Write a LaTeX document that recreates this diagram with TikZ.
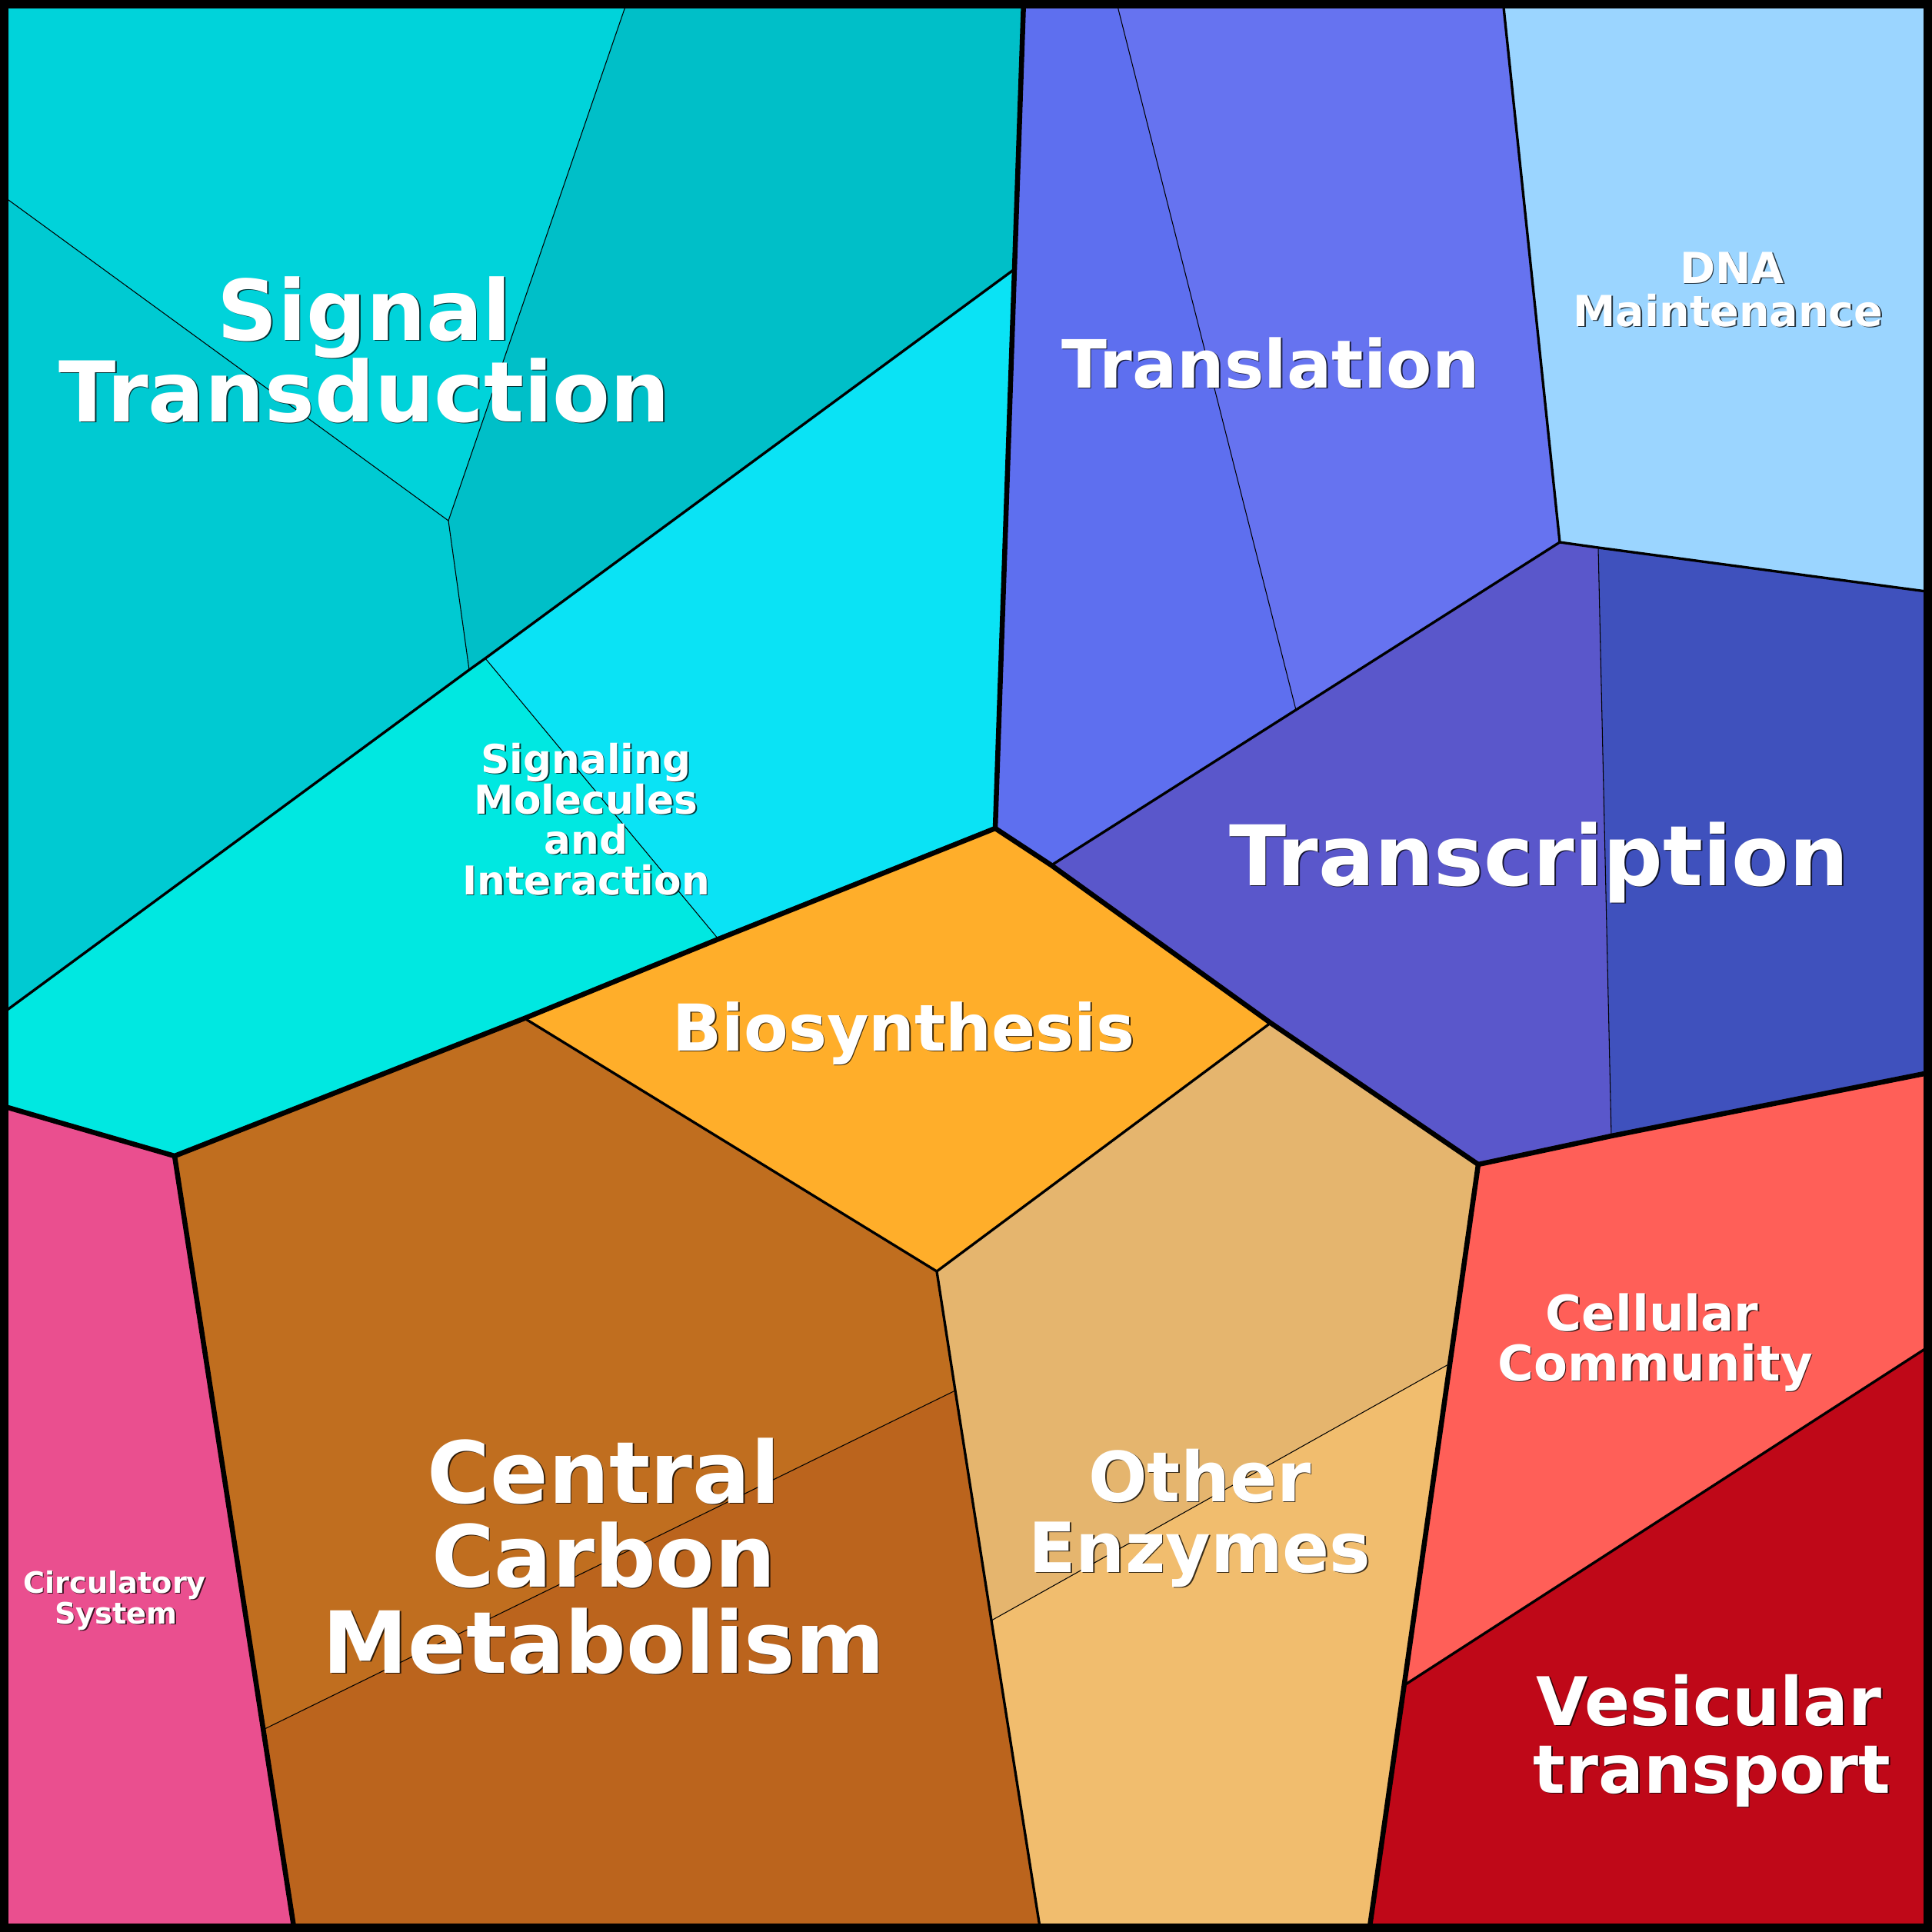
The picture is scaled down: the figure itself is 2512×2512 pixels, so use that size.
\documentclass[tikz,border=0pt]{standalone}
\usepackage{fontspec}
\setmainfont{DejaVu Sans}
\definecolor{cST1}{HTML}{00D3DA}
\definecolor{cST2}{HTML}{00CAD2}
\definecolor{cST3}{HTML}{00BFC8}
\definecolor{cSM1}{HTML}{0AE3F5}
\definecolor{cSM2}{HTML}{00E8E1}
\definecolor{cCIRC}{HTML}{EA4F8F}
\definecolor{cCCM1}{HTML}{C06E1F}
\definecolor{cCCM2}{HTML}{BB641D}
\definecolor{cBIO}{HTML}{FFAE2A}
\definecolor{cOE1}{HTML}{E5B56E}
\definecolor{cOE2}{HTML}{F1BD6E}
\definecolor{cCC}{HTML}{FF5F58}
\definecolor{cVT}{HTML}{BF0818}
\definecolor{cTR1}{HTML}{5A57CB}
\definecolor{cTR2}{HTML}{3F51BD}
\definecolor{cTL1}{HTML}{5E6FEF}
\definecolor{cTL2}{HTML}{6673F0}
\definecolor{cDNA}{HTML}{9BD5FF}
\tikzset{
  thickedge/.style={line width=1.85pt, line join=round},
  midedge/.style={line width=0.95pt, line join=round},
  thinedge/.style={line width=0.3pt},
  txt/.style={inner sep=0pt, anchor=base, text=white},
  txtshadow/.style={inner sep=0pt, anchor=base, text=black, opacity=0.75},
}
\newcommand\lbl[5]{%
  \node[txtshadow,font=\fontsize{#4pt}{#4pt}\selectfont\bfseries] at (#2+1.6,#3+1.6) {#5};
  \node[txt,font=\fontsize{#4pt}{#4pt}\selectfont\bfseries] (#1) at (#2,#3) {#5};}
\begin{document}
\begin{tikzpicture}[x=0.01cm,y=-0.01cm]
\useasboundingbox (0,0) rectangle (2512,2512);
% vertices
\coordinate (TA) at (816,0);
\coordinate (LA) at (0,252);
\coordinate (A) at (583,677);
\coordinate (B) at (610,871);
\coordinate (D) at (631,856);
\coordinate (T2) at (1331,0);
\coordinate (C1) at (1319,350);
\coordinate (LM) at (0,1320);
\coordinate (E) at (1294,1077);
\coordinate (F) at (934,1221);
\coordinate (G) at (682,1324);
\coordinate (H) at (227,1503);
\coordinate (LH) at (0,1437);
\coordinate (HB) at (383,2512);
\coordinate (K) at (342,2249);
\coordinate (I) at (1218,1653);
\coordinate (J) at (1242,1808);
\coordinate (L) at (1353,2512);
\coordinate (M) at (1652,1330);
\coordinate (N) at (1922,1514);
\coordinate (P) at (1885,1773);
\coordinate (Q) at (1289,2107);
\coordinate (R) at (1826,2191);
\coordinate (S) at (1780,2512);
\coordinate (RR) at (2512,1748);
\coordinate (T) at (2095,1477);
\coordinate (U) at (2512,1394);
\coordinate (V) at (1367,1125);
\coordinate (W) at (2028,705);
\coordinate (X) at (2078,712);
\coordinate (XR) at (2512,770);
\coordinate (WT) at (1954,0);
\coordinate (Y) at (1685,923);
\coordinate (YT) at (1451,0);
\coordinate (TL) at (0,0);
\coordinate (TR) at (2512,0);
\coordinate (BR) at (2512,2512);
\coordinate (BL) at (0,2512);
% fills
\fill[cST1] (TL) -- (TA) -- (A) -- (LA) -- cycle;
\fill[cST2] (LA) -- (A) -- (B) -- (LM) -- cycle;
\fill[cST3] (TA) -- (T2) -- (C1) -- (D) -- (B) -- (A) -- cycle;
\fill[cSM1] (C1) -- (E) -- (F) -- (D) -- cycle;
\fill[cSM2] (LM) -- (B) -- (D) -- (F) -- (G) -- (H) -- (LH) -- cycle;
\fill[cCIRC] (LH) -- (H) -- (HB) -- (BL) -- cycle;
\fill[cCCM1] (H) -- (G) -- (I) -- (J) -- (K) -- cycle;
\fill[cCCM2] (K) -- (J) -- (L) -- (HB) -- cycle;
\fill[cBIO] (E) -- (V) -- (M) -- (I) -- (G) -- (F) -- cycle;
\fill[cOE1] (I) -- (M) -- (N) -- (P) -- (Q) -- (J) -- cycle;
\fill[cOE2] (J) -- (Q) -- (P) -- (R) -- (S) -- (L) -- cycle;
\fill[cCC] (N) -- (T) -- (U) -- (RR) -- (R) -- (P) -- cycle;
\fill[cVT] (R) -- (RR) -- (BR) -- (S) -- cycle;
\fill[cTR1] (V) -- (Y) -- (W) -- (X) -- (T) -- (N) -- (M) -- cycle;
\fill[cTR2] (X) -- (XR) -- (U) -- (T) -- cycle;
\fill[cTL1] (T2) -- (YT) -- (Y) -- (V) -- (E) -- (C1) -- cycle;
\fill[cTL2] (YT) -- (WT) -- (W) -- (Y) -- cycle;
\fill[cDNA] (WT) -- (TR) -- (XR) -- (X) -- (W) -- cycle;
% thin edges
\draw[thinedge] (TA) -- (A) -- (LA);
\draw[thinedge] (A) -- (B);
\draw[thinedge] (D) -- (F);
\draw[thinedge] (J) -- (K);
\draw[thinedge] (Q) -- (P);
\draw[thinedge] (YT) -- (Y);
\draw[thinedge] (X) -- (T);
% medium edges
\draw[midedge] (C1) -- (D) -- (B) -- (LM);
\draw[midedge] (G) -- (I) -- (M);
\draw[midedge] (I) -- (J) -- (Q) -- (L);
\draw[midedge] (R) -- (RR);
\draw[midedge] (V) -- (Y) -- (W);
\draw[midedge] (WT) -- (W) -- (X) -- (XR);
% thick edges
\draw[thickedge] (T2) -- (C1) -- (E);
\draw[thickedge] (E) -- (F) -- (G) -- (H) -- (LH);
\draw[thickedge] (H) -- (HB);
\draw[thickedge] (E) -- (V) -- (M) -- (N) -- (S);
\draw[thickedge] (N) -- (T) -- (U);
% border
\draw[line width=3.25pt] (5.7,5.7) rectangle (2506.3,2506.3);
% labels
\lbl{st1}{474}{442}{31}{Signal}
\lbl{st2}{474}{548}{31}{Transduction}
\lbl{tl}{1652}{504}{24.6}{Translation}
\lbl{dna1}{2252}{368}{15.8}{DNA}
\lbl{dna2}{2247}{424}{15.8}{Maintenance}
\lbl{tr}{2001}{1151}{30.9}{Transcription}
\lbl{sm1}{762}{1005}{14.7}{Signaling}
\lbl{sm2}{762}{1058}{14.7}{Molecules}
\lbl{sm3}{762}{1110}{14.7}{and}
\lbl{sm4}{762}{1163}{14.7}{Interaction}
\lbl{bio}{1175}{1366}{23.9}{Biosynthesis}
\lbl{ccm1}{785}{1954}{31.7}{Central}
\lbl{ccm2}{785}{2063}{31.7}{Carbon}
\lbl{ccm3}{785}{2175}{31.7}{Metabolism}
\lbl{oe1}{1560}{1952}{25.6}{Other}
\lbl{oe2}{1560}{2044}{25.6}{Enzymes}
\lbl{cc1}{2148}{1730}{18.2}{Cellular}
\lbl{cc2}{2152}{1795}{18.2}{Community}
\lbl{vt1}{2222}{2243}{24.8}{Vesicular}
\lbl{vt2}{2226}{2331}{24.8}{transport}
\lbl{cs1}{149}{2071}{10.9}{Circulatory}
\lbl{cs2}{151}{2111}{10.9}{System}
\end{tikzpicture}
\end{document}
